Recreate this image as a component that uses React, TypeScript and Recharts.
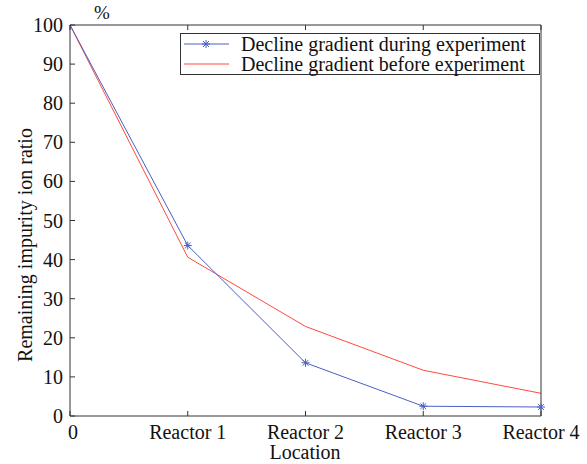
import React from 'react';
import { LineChart, Line, XAxis, YAxis } from 'recharts';

// values
const locations = ['0', 'Reactor 1', 'Reactor 2', 'Reactor 3', 'Reactor 4'];
const duringExperiment = [100, 43.6, 13.6, 2.5, 2.3];
const beforeExperiment = [100, 40.6, 22.9, 11.7, 5.8];
const yTicks = [0, 10, 20, 30, 40, 50, 60, 70, 80, 90, 100];

const BLUE = '#4a5fc6';
const RED = '#ff4a3d';
const FONT = '"Liberation Serif", "Times New Roman", serif';
const textStyle = { fontFamily: FONT, fontSize: 20 };

const data = locations.map((loc, i) => ({
  loc,
  during: duringExperiment[i],
  before: beforeExperiment[i],
}));

// MATLAB style '*' marker
const Star = (props: any) => {
  const { cx, cy, index } = props;
  if (index === 0 || cx == null || cy == null) return <g key={`s${index}`} />;
  const r = 4;
  const d = r * 0.72;
  return (
    <g key={`s${index}`} stroke={BLUE} strokeWidth={1}>
      <line x1={cx - r} y1={cy} x2={cx + r} y2={cy} />
      <line x1={cx} y1={cy - r} x2={cx} y2={cy + r} />
      <line x1={cx - d} y1={cy - d} x2={cx + d} y2={cy + d} />
      <line x1={cx - d} y1={cy + d} x2={cx + d} y2={cy - d} />
    </g>
  );
};

// ticks drawn inward, labels outside
const LeftTick = (props: any) => {
  const { x, y, payload } = props;
  return (
    <g>
      <line x1={x} y1={y} x2={x + 5} y2={y} stroke="#333" />
      <text x={x - 7} y={y + 7} textAnchor="end" style={textStyle} fill="#111">
        {payload.value}
      </text>
    </g>
  );
};

const RightTick = (props: any) => {
  const { x, y } = props;
  return <line x1={x} y1={y} x2={x - 5} y2={y} stroke="#333" />;
};

const BottomTick = (props: any) => {
  const { x, y, payload, index } = props;
  return (
    <g>
      <line x1={x} y1={y} x2={x} y2={y - 5} stroke="#333" />
      <text x={index === 0 ? x + 3 : x} y={y + 23} textAnchor="middle" style={textStyle} fill="#111">
        {payload.value}
      </text>
    </g>
  );
};

const TopTick = (props: any) => {
  const { x, y } = props;
  return <line x1={x} y1={y} x2={x} y2={y + 5} stroke="#333" />;
};

const axisLine = { stroke: '#333', strokeWidth: 1 };

export default function App() {
  return (
    <div style={{ position: 'absolute', left: 0, top: 0, width: 587, height: 464, background: '#fff', fontFamily: FONT }}>
      <LineChart width={587} height={464} data={data} margin={{ top: 24, right: 45, bottom: 47, left: 69 }}>
        <XAxis
          dataKey="loc"
          type="category"
          height={1}
          tickSize={0}
          tickMargin={0}
          tickLine={false}
          axisLine={axisLine}
          tick={<BottomTick />}
          interval={0}
        />
        <XAxis
          xAxisId="top"
          orientation="top"
          dataKey="loc"
          type="category"
          height={1}
          tickSize={0}
          tickMargin={0}
          tickLine={false}
          axisLine={axisLine}
          tick={<TopTick />}
          interval={0}
        />
        <YAxis
          domain={[0, 100]}
          ticks={yTicks}
          width={1}
          tickSize={0}
          tickMargin={0}
          tickLine={false}
          axisLine={axisLine}
          tick={<LeftTick />}
          interval={0}
        />
        <YAxis
          yAxisId="right"
          orientation="right"
          domain={[0, 100]}
          ticks={yTicks}
          width={1}
          tickSize={0}
          tickMargin={0}
          tickLine={false}
          axisLine={axisLine}
          tick={<RightTick />}
          interval={0}
        />
        <Line
          type="linear"
          dataKey="before"
          stroke={RED}
          strokeWidth={1}
          dot={false}
          activeDot={false}
          isAnimationActive={false}
        />
        <Line
          type="linear"
          dataKey="during"
          stroke={BLUE}
          strokeWidth={1}
          dot={<Star />}
          activeDot={false}
          isAnimationActive={false}
        />
      </LineChart>

      {/* legend box */}
      <div
        style={{
          position: 'absolute',
          left: 180,
          top: 33,
          width: 358,
          height: 40,
          border: '1px solid #333',
          background: '#fff',
          fontSize: 20,
          lineHeight: '20px',
          color: '#111',
        }}
      >
        <div style={{ display: 'flex', alignItems: 'center', height: 20 }}>
          <svg width={60} height={20}>
            <line x1={3} y1={10} x2={48} y2={10} stroke={BLUE} />
            <g stroke={BLUE}>
              <line x1={21} y1={10} x2={29} y2={10} />
              <line x1={25} y1={6} x2={25} y2={14} />
              <line x1={22} y1={7} x2={28} y2={13} />
              <line x1={22} y1={13} x2={28} y2={7} />
            </g>
          </svg>
          <span>Decline gradient during experiment</span>
        </div>
        <div style={{ display: 'flex', alignItems: 'center', height: 20 }}>
          <svg width={60} height={20}>
            <line x1={3} y1={10} x2={48} y2={10} stroke={RED} />
          </svg>
          <span>Decline gradient before experiment</span>
        </div>
      </div>

      {/* unit mark */}
      <div style={{ position: 'absolute', left: 94, top: 2, fontSize: 19, color: '#111' }}>%</div>

      {/* axis titles */}
      <div style={{ position: 'absolute', left: 0, width: 610, top: 441, textAlign: 'center', fontSize: 20, color: '#111' }}>
        Location
      </div>
      <div
        style={{
          position: 'absolute',
          left: 25,
          top: 245,
          transform: 'translate(-50%, -50%) rotate(-90deg)',
          whiteSpace: 'nowrap',
          fontSize: 20,
          color: '#111',
        }}
      >
        Remaining impurity ion ratio
      </div>
    </div>
  );
}
